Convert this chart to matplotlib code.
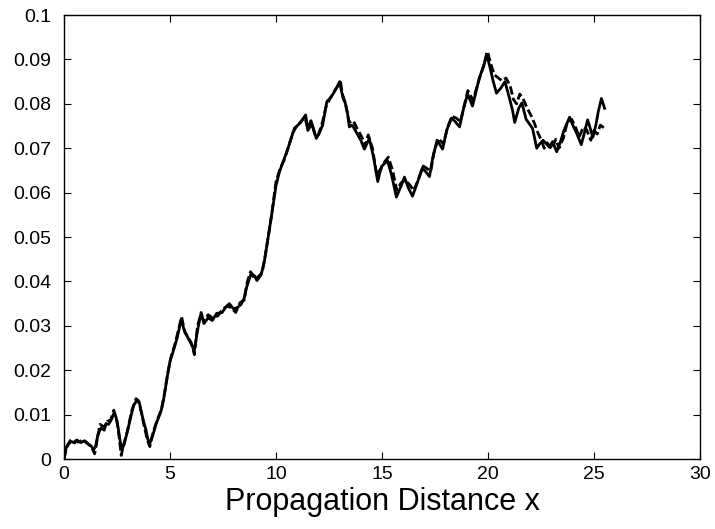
import numpy as np
import matplotlib
matplotlib.use('Agg')
import matplotlib.pyplot as plt

plt.rcParams['font.family'] = ['Liberation Sans', 'DejaVu Sans']

# solid curve (x, y)
solid = [
    (0, 0.000), (0.1, 0.0025), (0.2, 0.0032), (0.33, 0.0040), (0.5, 0.0036),
    (0.6, 0.0043), (0.8, 0.0037), (0.95, 0.0041), (1.1, 0.0035), (1.27, 0.0030),
    (1.4, 0.0021), (1.5, 0.0030), (1.6, 0.0055), (1.75, 0.0070), (1.9, 0.0065),
    (1.98, 0.0080), (2.1, 0.0078), (2.25, 0.0090), (2.36, 0.0104), (2.45, 0.0095),
    (2.55, 0.0072), (2.65, 0.0040), (2.74, 0.0022), (2.85, 0.0035), (2.98, 0.0060),
    (3.1, 0.0085), (3.2, 0.0105), (3.3, 0.0122), (3.45, 0.0133), (3.55, 0.0128),
    (3.63, 0.0110), (3.75, 0.0085), (3.87, 0.0065), (3.95, 0.0045), (4.06, 0.0036),
    (4.2, 0.0055), (4.35, 0.0080), (4.45, 0.0092), (4.58, 0.0108), (4.7, 0.0135),
    (4.87, 0.0185), (5.0, 0.0220), (5.2, 0.0250), (5.35, 0.0275), (5.53, 0.0315),
    (5.67, 0.0290), (5.9, 0.0268), (6.05, 0.0255), (6.14, 0.0242), (6.3, 0.0290),
    (6.47, 0.0330), (6.6, 0.0305), (6.8, 0.0318), (7.0, 0.0312), (7.2, 0.0328),
    (7.46, 0.0330), (7.6, 0.0340), (7.8, 0.0350), (8.0, 0.0338), (8.2, 0.0342),
    (8.35, 0.0348), (8.5, 0.0362), (8.6, 0.0385), (8.83, 0.0418), (9.0, 0.0412),
    (9.1, 0.0402), (9.3, 0.0415), (9.45, 0.0445), (9.6, 0.0490), (9.78, 0.0545),
    (10.0, 0.0615), (10.15, 0.0645), (10.3, 0.0665), (10.55, 0.0697), (10.7, 0.0720),
    (10.87, 0.0745), (11.1, 0.0755), (11.4, 0.0775), (11.5, 0.0740), (11.7, 0.0755),
    (11.9, 0.0722), (12.05, 0.0735), (12.2, 0.0752), (12.4, 0.0805), (12.6, 0.0815),
    (12.75, 0.0827), (12.9, 0.0840), (13.0, 0.0850), (13.1, 0.0826), (13.25, 0.0805),
    (13.37, 0.0780), (13.46, 0.0748), (13.6, 0.0752), (13.8, 0.0735), (14.0, 0.0718),
    (14.17, 0.0698), (14.4, 0.0722), (14.6, 0.0680), (14.8, 0.0625), (14.9, 0.0645),
    (15.0, 0.0660), (15.26, 0.0672), (15.45, 0.0640), (15.68, 0.0590), (15.9, 0.0615),
    (16.06, 0.0635), (16.25, 0.0610), (16.44, 0.0592), (16.65, 0.0620), (16.9, 0.0655),
    (17.05, 0.0648), (17.24, 0.0636), (17.4, 0.0680), (17.6, 0.0718), (17.86, 0.0698),
    (18.05, 0.0740), (18.28, 0.0768), (18.45, 0.0760), (18.66, 0.0748), (18.85, 0.0790),
    (19.04, 0.0822), (19.27, 0.0795), (19.45, 0.0830), (19.6, 0.0860), (19.8, 0.0885),
    (19.93, 0.0912), (20.08, 0.0885), (20.25, 0.0850), (20.4, 0.0824), (20.6, 0.0835),
    (20.8, 0.0850), (21.0, 0.0815), (21.16, 0.0785), (21.26, 0.0758), (21.45, 0.0790),
    (21.6, 0.0802), (21.8, 0.0765), (22.1, 0.0745), (22.3, 0.0700), (22.44, 0.0710),
    (22.6, 0.0718), (22.9, 0.0702), (23.05, 0.0715), (23.24, 0.0692), (23.4, 0.0712),
    (23.6, 0.0742), (23.85, 0.0770), (24.0, 0.0752), (24.18, 0.0734), (24.4, 0.0708),
    (24.55, 0.0735), (24.7, 0.0764), (24.95, 0.0725), (25.1, 0.0755), (25.2, 0.0782),
    (25.35, 0.0812), (25.5, 0.0790),
]

# dashed curve
dashed = [
    (0, 0.000), (0.15, 0.0030), (0.3, 0.0042), (0.5, 0.0040), (0.7, 0.0038),
    (0.9, 0.0044), (1.1, 0.0036), (1.3, 0.0026), (1.45, 0.0012), (1.55, 0.0040),
    (1.7, 0.0078), (1.9, 0.0072), (2.05, 0.0085), (2.2, 0.0088), (2.35, 0.0110),
    (2.5, 0.0085), (2.6, 0.0050), (2.7, 0.0008), (2.8, 0.0030), (3.0, 0.0065),
    (3.2, 0.0110), (3.4, 0.0136), (3.5, 0.0132), (3.65, 0.0105), (3.8, 0.0070),
    (3.95, 0.0040), (4.05, 0.0028), (4.2, 0.0060), (4.4, 0.0088), (4.6, 0.0112),
    (4.75, 0.0150), (4.9, 0.0195), (5.05, 0.0230), (5.25, 0.0262), (5.45, 0.0300),
    (5.55, 0.0320), (5.7, 0.0285), (5.85, 0.0275), (6.0, 0.0262), (6.15, 0.0235),
    (6.3, 0.0300), (6.45, 0.0325), (6.6, 0.0310), (6.8, 0.0325), (7.0, 0.0318),
    (7.25, 0.0322), (7.5, 0.0338), (7.7, 0.0345), (7.9, 0.0340), (8.1, 0.0330),
    (8.3, 0.0352), (8.5, 0.0358), (8.65, 0.0400), (8.8, 0.0422), (9.0, 0.0405),
    (9.15, 0.0410), (9.35, 0.0420), (9.5, 0.0460), (9.65, 0.0505), (9.8, 0.0552),
    (10.0, 0.0625), (10.2, 0.0655), (10.4, 0.0675), (10.6, 0.0705), (10.8, 0.0735),
    (11.0, 0.0752), (11.2, 0.0760), (11.35, 0.0770), (11.5, 0.0745), (11.65, 0.0762),
    (11.85, 0.0728), (12.0, 0.0730), (12.2, 0.0760), (12.35, 0.0792), (12.55, 0.0812),
    (12.8, 0.0832), (12.95, 0.0842), (13.05, 0.0848), (13.15, 0.0815), (13.3, 0.0795),
    (13.45, 0.0758), (13.65, 0.0762), (13.85, 0.0742), (14.05, 0.0725), (14.2, 0.0705),
    (14.35, 0.0730), (14.55, 0.0700), (14.75, 0.0640), (14.95, 0.0655), (15.1, 0.0668),
    (15.3, 0.0680), (15.5, 0.0650), (15.7, 0.0605), (15.9, 0.0622), (16.1, 0.0628),
    (16.3, 0.0618), (16.5, 0.0605), (16.7, 0.0628), (16.95, 0.0660), (17.1, 0.0655),
    (17.3, 0.0648), (17.45, 0.0690), (17.65, 0.0722), (17.9, 0.0710), (18.1, 0.0748),
    (18.3, 0.0772), (18.5, 0.0768), (18.7, 0.0760), (18.9, 0.0800), (19.05, 0.0830),
    (19.3, 0.0808), (19.5, 0.0842), (19.65, 0.0865), (19.85, 0.0895), (19.98, 0.0918),
    (20.1, 0.0895), (20.3, 0.0865), (20.45, 0.0860), (20.65, 0.0852), (20.85, 0.0858),
    (21.05, 0.0840), (21.2, 0.0810), (21.35, 0.0800), (21.5, 0.0822), (21.65, 0.0812),
    (21.85, 0.0790), (22.05, 0.0772), (22.2, 0.0755), (22.35, 0.0735), (22.5, 0.0720),
    (22.65, 0.0700), (22.8, 0.0712), (23.0, 0.0698), (23.2, 0.0720), (23.35, 0.0700),
    (23.55, 0.0722), (23.75, 0.0760), (23.95, 0.0765), (24.15, 0.0745), (24.3, 0.0725),
    (24.5, 0.0748), (24.65, 0.0742), (24.85, 0.0718), (25.0, 0.0740), (25.15, 0.0732),
    (25.3, 0.0752), (25.5, 0.0745),
]

xs, ys = np.array(solid).T
xd, yd = np.array(dashed).T

fig = plt.figure(figsize=(7.15, 5.29), dpi=100)
ax = fig.add_axes([0.0895, 0.1323, 0.8895, 0.8393])

ax.plot(xs, ys, color='black', lw=2.0)
ax.plot(xd, yd, color='black', lw=2.0, linestyle=(0, (3, 1.2)))

ax.set_xlim(0, 30)
ax.set_ylim(0, 0.1)
ax.set_xticks([0, 5, 10, 15, 20, 25, 30])
ax.set_yticks([0, 0.01, 0.02, 0.03, 0.04, 0.05, 0.06, 0.07, 0.08, 0.09, 0.1])
ax.set_yticklabels(['0', '0.01', '0.02', '0.03', '0.04', '0.05', '0.06',
                    '0.07', '0.08', '0.09', '0.1'])
ax.tick_params(direction='in', length=5, width=0.8, labelsize=14,
               top=True, right=True)
ax.tick_params(axis='x', pad=5)
ax.tick_params(axis='y', pad=9)
for s in ax.spines.values():
    s.set_linewidth(1.0)

ax.set_xlabel('Propagation Distance x', fontsize=22, labelpad=3)

fig.savefig('out.png', dpi=100)
